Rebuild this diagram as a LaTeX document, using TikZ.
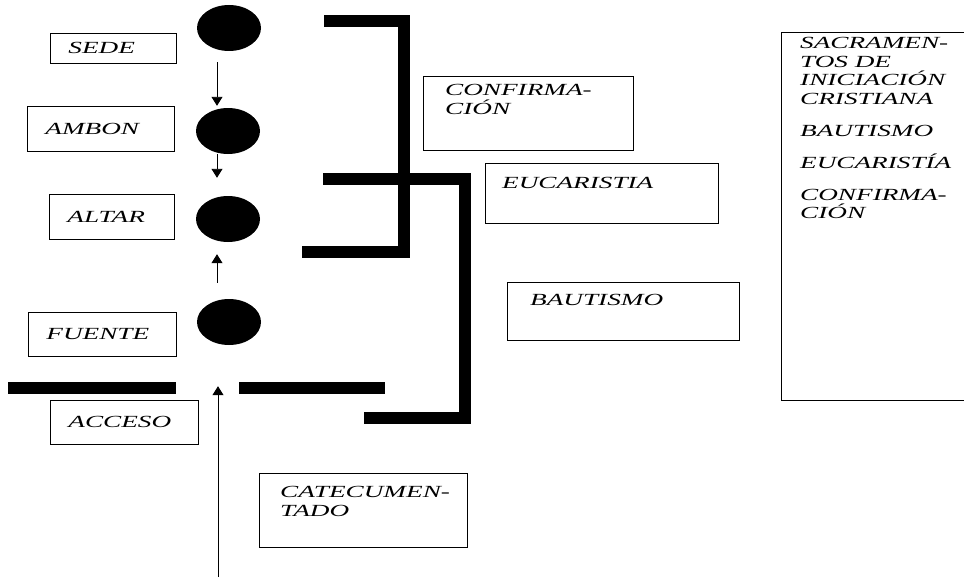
\documentclass[tikz,border=0pt]{standalone}
\usepackage{fontspec}
\newfontfamily\calli[FakeStretch=1.6]{Liberation Serif}
\usetikzlibrary{arrows.meta,positioning,shapes.geometric,calc}

\begin{document}
\begin{tikzpicture}[
    x=1pt, y=-1pt,
    every node/.style={font=\calli\itshape\fontsize{17}{18.5}\selectfont},
    place/.style={draw, line width=0.8pt, inner xsep=18pt, inner ysep=0pt,
                  align=left, anchor=north west},
    frame/.style={draw, line width=0.8pt, inner sep=0pt, anchor=north west},
    caption/.style={inner sep=0pt, align=left, anchor=north west},
    dot/.style={ellipse, fill=black, inner sep=0pt, minimum width=64pt, minimum height=46pt},
    arrow/.style={-{Triangle[width=11pt,length=9pt]}, line width=0.9pt},
    wall/.style={line width=12pt}
]
\useasboundingbox[fill=white] (0,0) rectangle (964,578);

% --- Places (left column) ---
\node[place, text width=90pt,  minimum height=30pt] (sede)   at (50,33)  {SEDE};
\node[place, text width=111pt, minimum height=45pt] (ambon)  at (27,106) {AMBON};
\node[place, text width=89pt,  minimum height=45pt] (altar)  at (49,194) {ALTAR};
\node[place, text width=112pt, minimum height=44pt] (fuente) at (28,312) {FUENTE};
\node[place, text width=112pt, minimum height=44pt] (acceso) at (50,400) {ACCESO};

% --- Dots ---
\node[dot] (dsede)   at (229,28)  {};
\node[dot] (dambon)  at (228,131) {};
\node[dot] (daltar)  at (228,219) {};
\node[dot] (dfuente) at (229,322) {};

% --- Sacraments boxes ---
\node[frame, minimum width=210pt, minimum height=74pt] (bconf) at (423,76) {};
\node[caption, below right=8.4pt and 22pt of bconf.north west] (tconf) {CONFIRMA-\\CIÓN};

\node[frame, minimum width=233pt, minimum height=60pt] (beuc) at (485,163) {};
\node[caption, below right=14.4pt and 17pt of beuc.north west] (teuc) {EUCARISTIA};

\node[frame, minimum width=232pt, minimum height=58pt] (bbaut) at (507,282) {};
\node[caption, below right=12.4pt and 23pt of bbaut.north west] (tbaut) {BAUTISMO};

\node[frame, minimum width=208pt, minimum height=74pt] (bcate) at (259,473) {};
\node[caption, below right=13.4pt and 21pt of bcate.north west] (tcate) {CATECUMEN-\\TADO};

% --- Legend (right) ---
\node[frame, minimum width=200pt, minimum height=368pt] (bsacr) at (781,32) {};
\node[caption, below right=5.4pt and 19pt of bsacr.north west] (tsacr)
    {SACRAMEN-\\TOS DE\\INICIACIÓN\\CRISTIANA\\[13.5pt]BAUTISMO\\[13.5pt]%
     EUCARISTÍA\\[13.5pt]CONFIRMA-\\CIÓN};

% --- Arrows along the axis ---
\coordinate (entry) at (218,577);
\draw[arrow] ($(dsede.south)+(-12,11)$)  -- ($(dambon.north)+(-11,-2)$);
\draw[arrow] ($(dambon.south)+(-11,0)$)  -- ($(daltar.north)+(-11,-18)$);
\draw[arrow] ($(dfuente.north)+(-12,-16)$) -- ($(daltar.south)+(-11,12)$);
\draw[arrow] (entry) -- ($(dfuente.south)+(-11,41)$);

% --- Thick walls ---
\draw[wall] (324,21) -- (404,21) -- (404,252) -- (302,252);
\draw[wall] (323,179) -- (465,179) -- (465,418) -- (364,418);
\draw[wall] (8,388) -- (176,388);
\draw[wall] (239,388) -- (385,388);

\end{tikzpicture}
\end{document}
